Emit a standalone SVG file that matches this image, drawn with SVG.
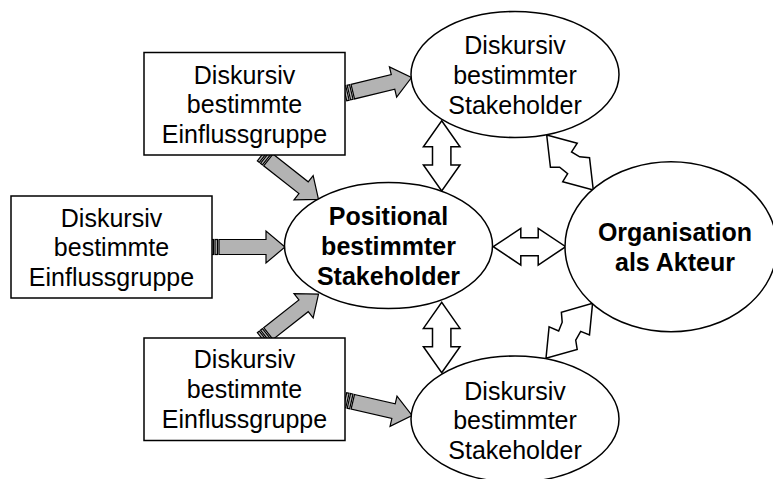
<svg xmlns="http://www.w3.org/2000/svg" width="773" height="479" viewBox="0 0 773 479">
  <style>
    .box { fill: #ffffff; stroke: #000000; stroke-width: 1.5; }
    .oval { fill: #ffffff; stroke: #000000; stroke-width: 1.5; }
    .flow { fill: #b3b3b3; stroke: #000000; stroke-width: 1.2; stroke-linejoin: miter; }
    .link { fill: #ffffff; stroke: #000000; stroke-width: 1.5; stroke-linejoin: miter; }
    .lbl { font-family: "Liberation Sans", Arial, sans-serif; font-size: 25px; fill: #000000; text-anchor: middle; }
    .bold { font-weight: bold; }
  </style>

  <!-- connectors -->
  <g id="connectors">
    <!-- striped grey arrows: influence groups to stakeholders -->
    <g transform="translate(211,247)">
      <rect class="flow" x="0" y="-7.5" width="2.5" height="15"/>
      <rect class="flow" x="4" y="-7.5" width="2.5" height="15"/>
      <path class="flow" d="M8,-7.5 H55 V-16 L74,0 L55,16 V7.5 H8 Z"/>
    </g>
    <g transform="translate(345,93.5) rotate(-13.5)">
      <rect class="flow" x="0" y="-7.5" width="2.5" height="15"/>
      <rect class="flow" x="4" y="-7.5" width="2.5" height="15"/>
      <path class="flow" d="M8,-7.5 H49.4 V-15.5 L68.4,0 L49.4,15.5 V7.5 H8 Z"/>
    </g>
    <g transform="translate(345,400) rotate(13)">
      <rect class="flow" x="0" y="-7.5" width="2.5" height="15"/>
      <rect class="flow" x="4" y="-7.5" width="2.5" height="15"/>
      <path class="flow" d="M8,-7.5 H49.8 V-15.5 L68.8,0 L49.8,15.5 V7.5 H8 Z"/>
    </g>
    <g transform="translate(262,155) rotate(38.2)">
      <rect class="flow" x="0" y="-7.5" width="2.5" height="15"/>
      <rect class="flow" x="4" y="-7.5" width="2.5" height="15"/>
      <path class="flow" d="M8,-7.5 H52.9 V-15.5 L71.9,0 L52.9,15.5 V7.5 H8 Z"/>
    </g>
    <g transform="translate(262,338.5) rotate(-38.2)">
      <rect class="flow" x="0" y="-7.5" width="2.5" height="15"/>
      <rect class="flow" x="4" y="-7.5" width="2.5" height="15"/>
      <path class="flow" d="M8,-7.5 H52.9 V-15.5 L71.9,0 L52.9,15.5 V7.5 H8 Z"/>
    </g>

    <!-- white double arrows between stakeholders -->
    <path class="link" d="M441.7,120.7 L460,146.7 L450.9,146.7 L450.9,165 L460,165 L441.7,191 L423.4,165 L432.5,165 L432.5,146.7 L423.4,146.7 Z"/>
    <path class="link" d="M441.7,372.7 L460,346.7 L450.9,346.7 L450.9,328.4 L460,328.4 L441.7,302.4 L423.4,328.4 L432.5,328.4 L432.5,346.7 L423.4,346.7 Z"/>
    <path class="link" d="M493.3,246.7 L520.8,228.4 L520.8,237.7 L538.2,237.7 L538.2,228.4 L565.7,246.7 L538.2,265 L538.2,255.7 L520.8,255.7 L520.8,265 Z"/>

    <!-- zigzag double arrows to the organisation -->
    <path class="link" transform="translate(546.7,135) rotate(49.7)" d="M0,0 L26,-18 L29,-8 L38,-11 L45,-18 L72,0 L46,18 L43,9 L33,11 L27,18 Z"/>
    <path class="link" transform="translate(546,358.3) rotate(-49.7)" d="M0,0 L26,-18 L29,-8 L38,-11 L45,-18 L72,0 L46,18 L43,9 L33,11 L27,18 Z"/>
  </g>

  <!-- influence groups -->
  <g id="group-top">
    <rect class="box" x="144" y="52.5" width="201" height="102.5"/>
    <text class="lbl"><tspan x="244.5" y="83.5">Diskursiv</tspan><tspan x="244.5" y="113.3">bestimmte</tspan><tspan x="244.5" y="143">Einflussgruppe</tspan></text>
  </g>
  <g id="group-left">
    <rect class="box" x="11" y="196" width="201" height="102"/>
    <text class="lbl"><tspan x="111.5" y="226.7">Diskursiv</tspan><tspan x="111.5" y="256.3">bestimmte</tspan><tspan x="111.5" y="286">Einflussgruppe</tspan></text>
  </g>
  <g id="group-bottom">
    <rect class="box" x="144" y="338" width="201" height="102.5"/>
    <text class="lbl"><tspan x="244.5" y="368">Diskursiv</tspan><tspan x="244.5" y="397.7">bestimmte</tspan><tspan x="244.5" y="427.5">Einflussgruppe</tspan></text>
  </g>

  <!-- stakeholders -->
  <g id="stakeholder-top">
    <ellipse class="oval" cx="515" cy="74.5" rx="104" ry="63"/>
    <text class="lbl"><tspan x="515" y="54">Diskursiv</tspan><tspan x="515" y="84">bestimmter</tspan><tspan x="515" y="113.5">Stakeholder</tspan></text>
  </g>
  <g id="stakeholder-center">
    <ellipse class="oval" cx="388.5" cy="245.5" rx="104" ry="63"/>
    <text class="lbl bold"><tspan x="388.5" y="225">Positional</tspan><tspan x="388.5" y="255">bestimmter</tspan><tspan x="388.5" y="285">Stakeholder</tspan></text>
  </g>
  <g id="stakeholder-bottom">
    <ellipse class="oval" cx="515" cy="419" rx="104" ry="63"/>
    <text class="lbl"><tspan x="515" y="399.5">Diskursiv</tspan><tspan x="515" y="429">bestimmter</tspan><tspan x="515" y="458.5">Stakeholder</tspan></text>
  </g>

  <!-- organisation -->
  <g id="organisation">
    <ellipse class="oval" cx="671" cy="246.7" rx="106" ry="85"/>
    <text class="lbl bold"><tspan x="675" y="241">Organisation</tspan><tspan x="675" y="270.7">als Akteur</tspan></text>
  </g>
</svg>
